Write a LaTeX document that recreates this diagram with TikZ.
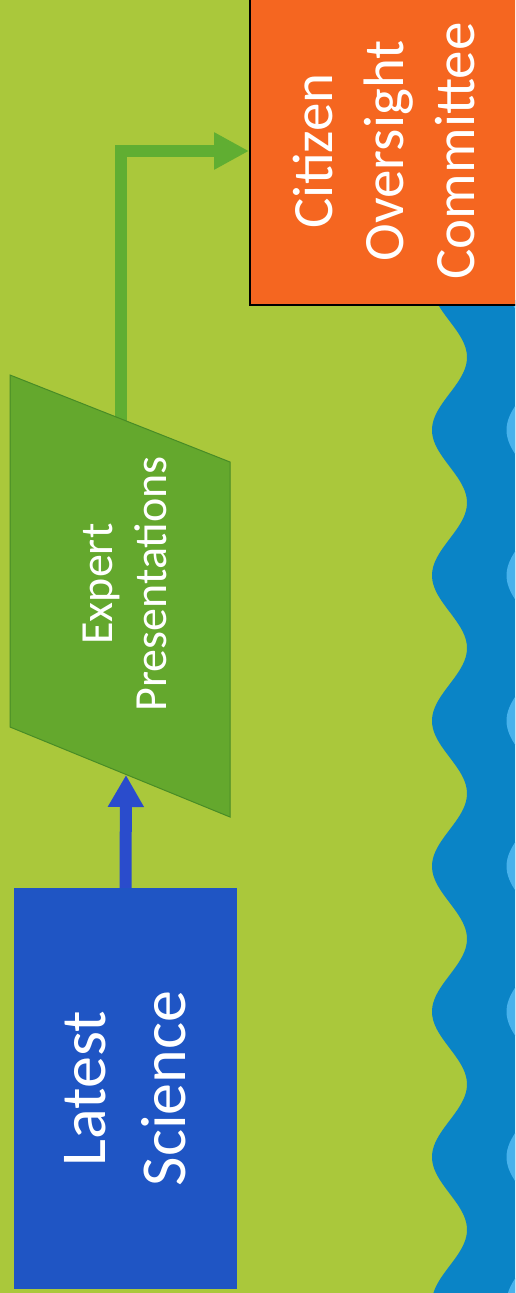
\documentclass[tikz,border=0pt]{standalone}
\usepackage{fontspec}
\setmainfont{Carlito}
\usetikzlibrary{arrows.meta}
\definecolor{bggreen}{RGB}{170,200,59}
\definecolor{wdark}{RGB}{10,132,198}
\definecolor{wlight}{RGB}{72,178,236}
\definecolor{corange}{RGB}{245,102,32}
\definecolor{pgreen}{RGB}{100,168,45}
\definecolor{pgreenline}{RGB}{72,140,38}
\definecolor{agreen}{RGB}{96,174,50}
\definecolor{bbox}{RGB}{31,85,196}
\definecolor{barrowc}{RGB}{42,76,204}
\begin{document}
\begin{tikzpicture}[x=1pt,y=-1pt,
  boxnode/.style={rotate=90,inner sep=0pt,align=center,text=white},
  garrow/.style={draw=agreen,line width=12pt,line join=miter,-{Triangle[width=35pt,length=35pt]}},
  barrow/.style={draw=barrowc,line width=12pt,-{Triangle[width=34pt,length=32pt]}}]
\useasboundingbox (0,0) rectangle (515,1293);
\clip (0,0) rectangle (515,1293);
% background
\fill[bggreen] (0,0) rectangle (515,1293);
% water
\fill[wdark] (530,300) -- plot[domain=300:1300,samples=300,variable=\t]
  ({449.5-17.5*cos((\t-430)*2.47593)},\t) -- (530,1300) -- cycle;
\fill[wlight] (540,300) -- plot[domain=300:1300,samples=300,variable=\t]
  ({524-17.5*cos((\t-430)*2.47593)},\t) -- (540,1300) -- cycle;
% orange box
\node[boxnode,fill=corange,draw=black,line width=2pt,
  minimum width=308pt,minimum height=268pt,
  font=\fontsize{57}{71}\selectfont] (coc) at (384,151) {Citizen\\Oversight\\Committee};
% blue box
\node[boxnode,fill=bbox,
  minimum width=401pt,minimum height=223pt,
  font=\fontsize{64}{80}\selectfont] (ls) at (125.5,1088.5) {Latest\\Science};
% parallelogram coordinates
\coordinate (epTop) at (121,440);
\coordinate (epBot) at (126,775);
% green connector (drawn below the parallelogram)
\draw[garrow] (epTop) |- (coc.north);
% parallelogram
\fill[pgreen,draw=pgreenline,line width=1pt] (10,375) -- (230,462) -- (230,817) -- (10,727) -- cycle;
\node[boxnode,font=\fontsize{46}{54}\selectfont] (ep) at (125,584) {Expert\\Presentations};
% blue connector
\draw[barrow] (ls.east) -- (epBot);
\end{tikzpicture}
\end{document}
